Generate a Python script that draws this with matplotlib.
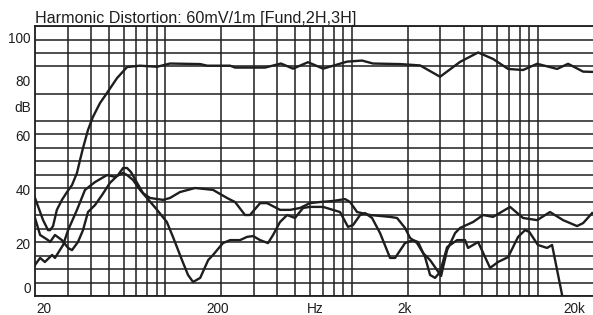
import matplotlib.pyplot as plt
from matplotlib.ticker import NullFormatter

plt.rcParams['font.family'] = ['Liberation Sans', 'DejaVu Sans']

# fundamental
fund_hz = [20, 22.1, 23.5, 24.1, 25.0, 26.2, 27.9, 29.7, 31.6, 33.6, 34.9, 36.2, 38.5, 40.9,
           44.7, 48.7, 55.1, 62.4, 73.2, 90.4, 106, 154, 168, 223, 237, 343, 418, 485, 584,
           703, 946, 1138, 1304, 1820, 2332, 2985, 3820, 4776, 5742, 6918, 8320, 9902,
           12678, 14522, 17486, 19770]
fund_db = [36.3, 28.1, 24.4, 24.4, 25.9, 31.9, 35.6, 38.5, 41.1, 45.6, 50.4, 54.8, 61.5, 66.3,
           71.5, 75.2, 80.7, 84.8, 85.3, 84.9, 86.1, 85.9, 85.3, 85.3, 84.6, 84.6, 86.1, 84.2,
           86.6, 84.2, 86.8, 87.2, 86.1, 85.9, 85.4, 81.2, 86.7, 90.2, 87.8, 84.1, 83.7, 86.0,
           84.1, 86.0, 83.1, 83.0]

# 2nd harmonic
h2_hz = [20, 21.3, 23.5, 24.1, 25.6, 27.9, 30.1, 31.6, 34.0, 36.2, 38.5, 42.0, 45.8, 50.5,
         55.8, 59.4, 62.4, 65.5, 70.6, 76.0, 82.9, 97.3, 106, 120, 144.5, 180.5, 214.6, 237,
         268, 285, 323, 352, 413, 468, 529, 598, 677, 796, 923, 982, 1070, 1138, 1256, 1609,
         1754, 1936, 2060, 2246, 2420, 2638, 2876, 3022, 3256, 3594, 3822, 4488, 5080, 5746,
         7090, 8320, 9902, 11614, 13646, 16220, 17486, 19540]
h2_db = [28.9, 22.6, 20.7, 20.0, 22.6, 20.7, 17.8, 17.0, 20.0, 24.4, 31.1, 33.7, 37.4, 41.9,
         44.8, 47.4, 47.4, 45.9, 41.9, 38.1, 36.3, 35.6, 36.3, 38.5, 40.0, 39.3, 36.3, 34.8,
         30.0, 30.0, 34.4, 34.4, 31.9, 31.9, 32.6, 34.4, 34.8, 35.2, 35.9, 34.8, 31.1, 30.7,
         30.0, 29.3, 28.9, 25.2, 21.5, 19.6, 15.9, 13.3, 9.6, 7.4, 17.0, 23.3, 25.2, 27.4,
         30.0, 29.3, 33.0, 28.9, 28.1, 31.1, 28.1, 25.9, 27.0, 30.7]

# 3rd harmonic
h3_hz = [20, 21.3, 22.6, 24.7, 25.6, 28.3, 30.1, 33.6, 37.1, 42.0, 48.7, 53.8, 59.4, 62.4,
         67.1, 73.2, 79.8, 90.4, 102, 110, 123, 132.5, 141, 154, 170, 180.5, 204, 223, 252,
         275, 296, 323, 356, 379, 413, 451, 497, 549, 598, 703, 867, 957, 1019, 1111, 1181,
         1288, 1422, 1609, 1712, 1936, 2138, 2274, 2480, 2638, 2806, 2985, 3256, 3684, 4064,
         4218, 4776, 5538, 6112, 6918, 7828, 8532, 9000, 10000, 11204, 11914, 12678, 13320,
         13646]
h3_db = [11.5, 14.1, 12.6, 15.2, 14.1, 18.9, 24.4, 31.9, 39.3, 42.2, 44.8, 44.1, 45.6, 44.8,
         43.0, 39.3, 36.3, 31.9, 27.4, 21.9, 13.3, 7.8, 5.2, 6.7, 13.3, 15.2, 19.6, 20.7, 20.7,
         21.9, 22.2, 20.7, 19.6, 22.6, 27.4, 30.0, 28.9, 32.6, 33.0, 33.0, 31.1, 25.6, 26.3,
         30.0, 30.7, 28.9, 23.3, 14.1, 14.1, 19.6, 20.7, 20.0, 14.4, 7.8, 6.7, 8.9, 18.1, 20.7,
         20.7, 17.8, 20.0, 10.4, 12.6, 14.4, 21.9, 24.4, 23.7, 18.9, 17.8, 18.9, 9.6, 2.2, -1.5]

xtick_pos = [22.4, 192, 637, 1936, 15600]
xtick_labels = ['20', '200', 'Hz', '2k', '20k']
ytick_pos = [3.3, 19.3, 39.6, 59.6, 70, 80, 95.6]
ytick_labels = ['0', '20', '40', '60', 'dB', '80', '100']

ink = '#1e1e1e'

fig = plt.figure(figsize=(5.93, 3.15), dpi=100)
ax = fig.add_axes([35 / 593, 19 / 315, 559 / 593, 270 / 315])

for hz, db in [(fund_hz, fund_db), (h2_hz, h2_db), (h3_hz, h3_db)]:
    ax.plot(hz, db, color=ink, lw=1.7, solid_joinstyle='round', zorder=3)

ax.set_xscale('log')
ax.set_xlim(20, 20000)
ax.set_ylim(0, 100)

# grid lines: 1-2-3...9 per decade, 5 dB steps
vgrid = [m * 10 ** e for e in range(1, 5) for m in range(1, 10) if 20 < m * 10 ** e < 20000]
ax.set_xticks(vgrid, minor=True)
ax.set_yticks(range(0, 101, 5), minor=True)
ax.xaxis.set_minor_formatter(NullFormatter())
ax.grid(which='minor', color=ink, lw=1.1)
ax.grid(which='major', visible=False)

ax.set_xticks(xtick_pos)
ax.set_xticklabels(xtick_labels)
ax.set_yticks(ytick_pos)
ax.set_yticklabels(ytick_labels)
ax.tick_params(which='both', length=0)
ax.tick_params(axis='x', pad=4.5, labelsize=9.8, colors=ink)
ax.tick_params(axis='y', pad=3, labelsize=9.8, colors=ink)

for s in ['left', 'top', 'bottom']:
    ax.spines[s].set_color(ink)
    ax.spines[s].set_linewidth(1.3)
ax.spines['right'].set_visible(False)

fig.text(35 / 593, 1 - 23 / 315, 'Harmonic Distortion: 60mV/1m [Fund,2H,3H]',
         fontsize=11.6, color=ink, va='baseline', ha='left')

fig.savefig('out.png', dpi=100)
